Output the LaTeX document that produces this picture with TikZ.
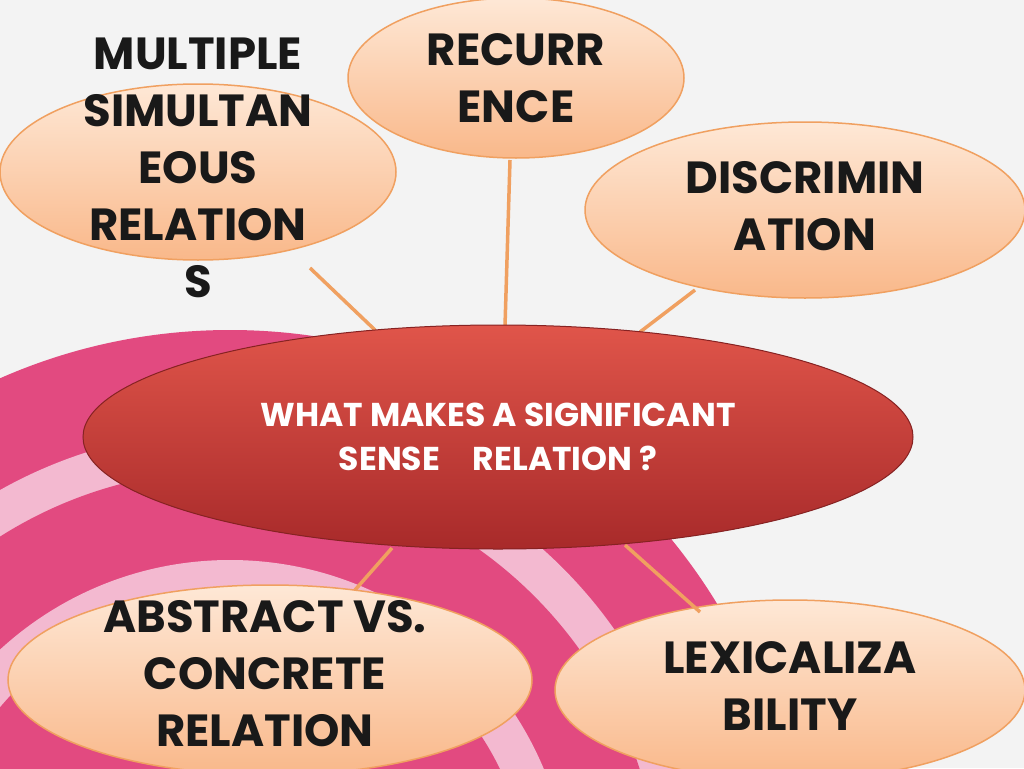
\documentclass[tikz,border=0pt]{standalone}
\usepackage{fontspec}
\setmainfont{Poppins}[UprightFont=* Bold]
\usetikzlibrary{shapes.geometric}
\definecolor{bg}{HTML}{F3F3F3}
\definecolor{mag}{HTML}{E24A80}
\definecolor{lpink}{HTML}{F3B9D0}
\definecolor{line}{HTML}{F0A060}
\definecolor{peachT}{HTML}{FEE8D6}
\definecolor{peachB}{HTML}{F9B88A}
\definecolor{redT}{HTML}{E0554A}
\definecolor{redB}{HTML}{A82A2A}
\tikzset{
  bub/.style={ellipse, draw=line, line width=1.5pt, top color=peachT, bottom color=peachB, inner sep=0pt},
  cen/.style={ellipse, draw=redB!80!black, line width=1pt, top color=redT, bottom color=redB, inner sep=0pt},
  btxt/.style={font=\fontsize{45}{57}\selectfont, text=black!90, align=center},
  ctxt/.style={font=\fontsize{33}{44}\selectfont, text=white, align=center},
  conn/.style={draw=line, line width=3.5pt}
}
\begin{document}
\begin{tikzpicture}[x=1pt,y=-1pt]
\useasboundingbox (0,0) rectangle (1024,768);
\fill[bg] (0,0) rectangle (1024,768);
\begin{scope}
\clip (0,0) rectangle (1024,768);
\fill[mag] (230,900) circle (570);
\fill[lpink] (230,900) circle (470);
\fill[mag] (230,900) circle (430);
\fill[lpink] (230,900) circle (340);
\fill[mag] (230,900) circle (300);
\end{scope}
% bubbles
\node[bub, minimum width=396, minimum height=176] (m) at (198,172) {};
\node[bub, minimum width=336, minimum height=160] (r) at (516,78) {};
\node[bub, minimum width=440, minimum height=176] (d) at (805,210) {};
\node[bub, minimum width=524, minimum height=190] (a) at (270,680) {};
\node[bub, minimum width=470, minimum height=180] (l) at (790,690) {};
% connectors
\coordinate (m1) at (310,268); \coordinate (c1) at (375,330);
\coordinate (r1) at (510,160); \coordinate (c2) at (505,326);
\coordinate (d1) at (695,290); \coordinate (c3) at (640,332);
\coordinate (a1) at (355,590); \coordinate (c4) at (392,548);
\coordinate (l1) at (700,612); \coordinate (c5) at (625,545);
\draw[conn] (m1) -- (c1);
\draw[conn] (r1) -- (c2);
\draw[conn] (d1) -- (c3);
\draw[conn] (a1) -- (c4);
\draw[conn] (l1) -- (c5);
\node[cen, minimum width=830, minimum height=224] (c) at (498,437) {};
% texts
\node[btxt] (mt) at (198,168) {MULTIPLE\\SIMULTAN\\EOUS\\RELATION\\S};
\node[btxt] (rt) at (516,78) {RECURR\\ENCE};
\node[btxt] (dt) at (805,206) {DISCRIMIN\\ATION};
\node[btxt] (at) at (265,674) {ABSTRACT VS.\\CONCRETE\\RELATION};
\node[btxt] (lt) at (790,686) {LEXICALIZA\\BILITY};
\node[ctxt] (ct) at (498,437) {WHAT MAKES A SIGNIFICANT\\SENSE\quad RELATION ?};
\end{tikzpicture}
\end{document}
